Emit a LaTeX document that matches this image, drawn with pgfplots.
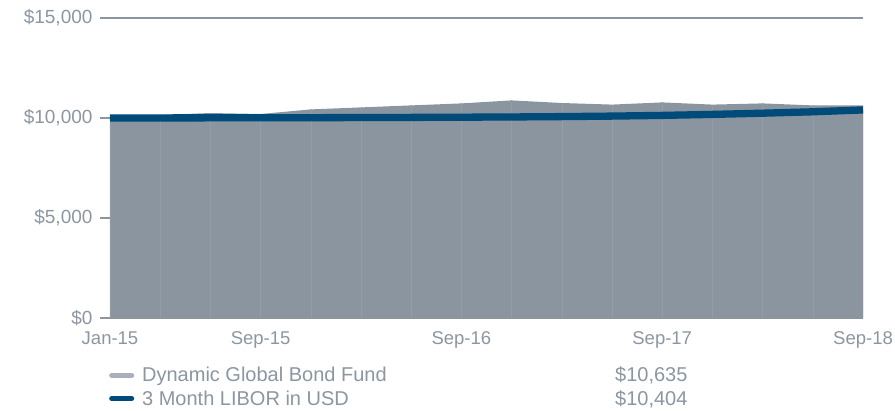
\documentclass[border=0pt]{standalone}
\usepackage{pgfplots}
\pgfplotsset{compat=1.18}
\usepackage{fontspec}
\setmainfont{Liberation Sans}

\definecolor{fundgray}{HTML}{8B95A0}
\definecolor{txtgray}{HTML}{8C96A1}
\definecolor{libor}{HTML}{004B7A}
\definecolor{legendgray}{HTML}{A9B0BA}
\definecolor{combgray}{HTML}{939CA7}

% quarter index: 0 = Jan-15, 3 = Sep-15, ..., 15 = Sep-18
\pgfplotstableread{
q  fund   libor
0  10000  10000
1  10150  10004
2  10250  10008
3  10200  10012
4  10430  10016
5  10530  10022
6  10630  10030
7  10730  10040
8  10880  10052
9  10750  10070
10 10670  10095
11 10780  10130
12 10670  10180
13 10730  10240
14 10630  10310
15 10635  10404
}\growth

\begin{document}
\begin{tikzpicture}
\begin{axis}[
    scale only axis,
    width=753bp, height=300bp,
    xmin=0, xmax=15,
    ymin=0, ymax=15000,
    scaled y ticks=false,
    axis line style={draw=none},
    xtick={0,3,7,11,15},
    xticklabels={Jan-15,Sep-15,Sep-16,Sep-17,Sep-18},
    ytick={0,5000,10000,15000},
    yticklabels={{\$0},{\$5,000},{\$10,000},{\$15,000}},
    ytick pos=left,
    x tick style={draw=none},
    y tick style={draw=txtgray, line width=1.2bp},
    major tick length=10bp,
    tick align=outside,
    ymajorgrids,
    grid style={draw=txtgray, line width=1.2bp},
    ticklabel style={font=\fontsize{18.5bp}{22bp}\selectfont, text=txtgray},
    yticklabel style={font=\fontsize{19bp}{22bp}\selectfont, xshift=-4bp},
    legend style={draw=none, fill=none, at={(0,0)}, anchor=north west,
        xshift=-4bp, yshift=-45bp, text=txtgray,
        font=\fontsize{20bp}{24bp}\selectfont,
        row sep=3bp, cells={anchor=west}},
    legend image code/.code={\draw[line width=5bp, line cap=round, #1] (4bp,0bp) -- (24bp,0bp);},
]
\addplot[fill=fundgray, draw=none, forget plot] table[x=q, y=fund] {\growth} \closedcycle;
\addplot[ycomb, draw=combgray, line width=0.5bp, forget plot] table[x=q, y=fund] {\growth};
\addplot[libor, line width=7.3bp, forget plot] table[x=q, y=libor] {\growth};

\addlegendimage{legendgray}
\addlegendentry{\hspace{6bp}\makebox[473bp][l]{Dynamic Global Bond Fund}\$10,635}
\addlegendimage{libor}
\addlegendentry{\hspace{6bp}\makebox[473bp][l]{3 Month LIBOR in USD}\$10,404}
\end{axis}
\pgfresetboundingbox
\path[use as bounding box] (-110bp,-93bp) rectangle (785bp,318bp);
\end{tikzpicture}
\end{document}
